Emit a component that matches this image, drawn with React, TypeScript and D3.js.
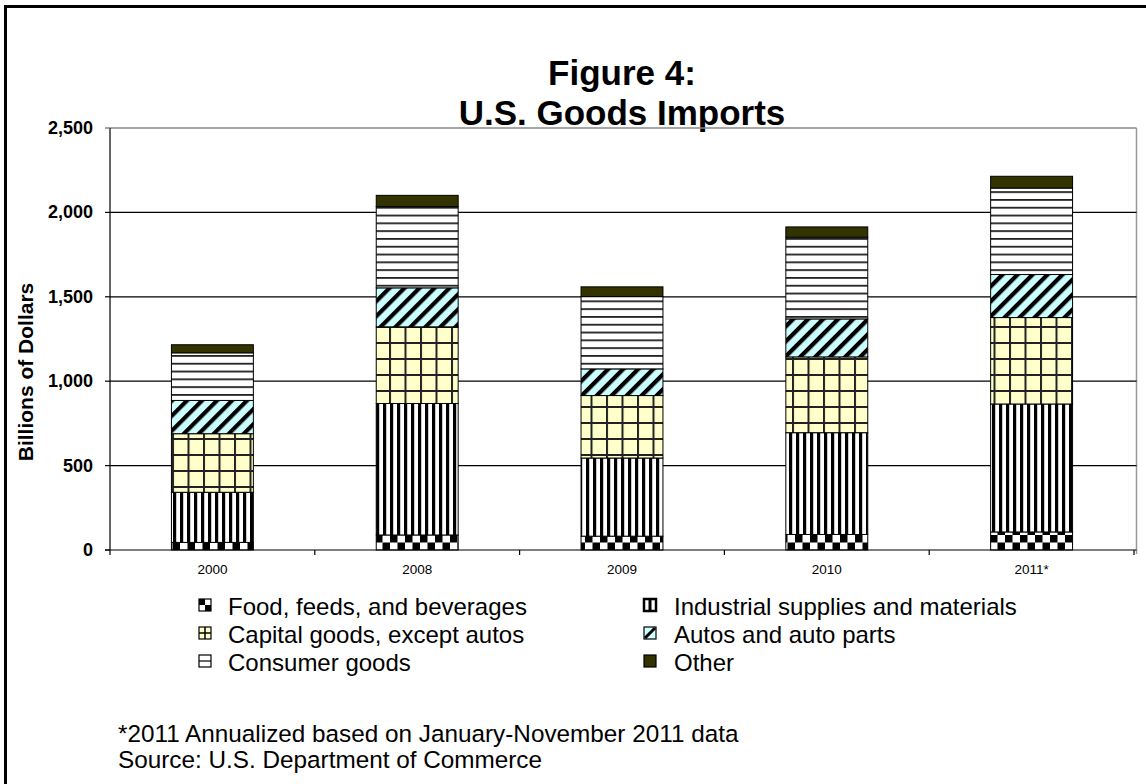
import React from "react";
import * as d3 from "d3";

const years = ["2000", "2008", "2009", "2010", "2011*"];
const food = [45, 89, 82, 92, 107];
const industrial = [297, 779, 463, 603, 758];
const capital = [347, 454, 370, 449, 512];
const autos = [197, 231, 158, 225, 255];
const consumer = [282, 481, 428, 484, 512];
const other = [48, 67, 58, 61, 70];

const seriesKeys = ["food", "industrial", "capital", "autos", "consumer", "other"];
const seriesNames = [
  "Food, feeds, and beverages",
  "Industrial supplies and materials",
  "Capital goods, except autos",
  "Autos and auto parts",
  "Consumer goods",
  "Other",
];
const yTicks = [0, 500, 1000, 1500, 2000, 2500];
const titleLines = ["Figure 4:", "U.S. Goods Imports"];
const yTitle = "Billions of Dollars";
const footnotes = [
  "*2011 Annualized based on January-November 2011 data",
  "Source:  U.S. Department of Commerce",
];

const FONT = "'Liberation Sans', Arial, Helvetica, sans-serif";

export default function App() {
  const W = 1146, H = 784;
  const left = 110, right = 1134, plotRight = 1136.5, top = 128, bottom = 550;

  const rows = years.map((y, i) => ({
    year: y,
    food: food[i],
    industrial: industrial[i],
    capital: capital[i],
    autos: autos[i],
    consumer: consumer[i],
    other: other[i],
  }));

  const stacked = d3.stack<any>().keys(seriesKeys)(rows);

  const x = d3.scaleBand<string>().domain(years).range([left, right]).paddingInner(0.6).paddingOuter(0.3);
  const xStep = (right - left) / years.length;
  const y = d3.scaleLinear().domain([0, 2500]).range([bottom, top]);

  const fills: Record<string, string> = {
    food: "url(#pFood)",
    industrial: "url(#pInd)",
    capital: "url(#pCap)",
    autos: "url(#pAuto)",
    consumer: "url(#pCons)",
    other: "#333300",
  };

  const fmt = d3.format(",");

  const legendItems = [
    { key: "food", col: 0, row: 0 },
    { key: "industrial", col: 1, row: 0 },
    { key: "capital", col: 0, row: 1 },
    { key: "autos", col: 1, row: 1 },
    { key: "consumer", col: 0, row: 2 },
    { key: "other", col: 1, row: 2 },
  ];
  const legColX = [199, 644];
  const legTextX = [228, 674];
  const legBase = [615, 643, 671];

  const marker = (key: string, mx: number, my: number) => {
    const s = 12;
    const st = { stroke: "#000", strokeWidth: 1.2 };
    switch (key) {
      case "food":
        return (
          <g>
            <rect x={mx} y={my} width={s} height={s} fill="#fff" {...st} />
            <rect x={mx} y={my} width={s / 2} height={s / 2} fill="#000" />
            <rect x={mx + s / 2} y={my + s / 2} width={s / 2} height={s / 2} fill="#000" />
          </g>
        );
      case "industrial":
        return (
          <g>
            <rect x={mx} y={my} width={s} height={s} fill="#fff" stroke="#000" strokeWidth={2.5} />
            <rect x={mx + 4.5} y={my} width={3} height={s} fill="#000" />
          </g>
        );
      case "capital":
        return (
          <g>
            <rect x={mx} y={my} width={s} height={s} fill="#FFFFCC" {...st} />
            <line x1={mx + s / 2} x2={mx + s / 2} y1={my} y2={my + s} stroke="#000" strokeWidth={1.5} />
            <line x1={mx} x2={mx + s} y1={my + s / 2} y2={my + s / 2} stroke="#000" strokeWidth={1.5} />
          </g>
        );
      case "autos":
        return (
          <g>
            <rect x={mx} y={my} width={s} height={s} fill="#CCFFFF" {...st} />
            <line x1={mx + 1} x2={mx + s - 1} y1={my + s - 1} y2={my + 1} stroke="#000" strokeWidth={3} />
          </g>
        );
      case "consumer":
        return (
          <g>
            <rect x={mx} y={my} width={s} height={s} fill="#fff" {...st} />
            <line x1={mx} x2={mx + s} y1={my + s / 2} y2={my + s / 2} stroke="#000" strokeWidth={1.2} />
          </g>
        );
      default:
        return <rect x={mx} y={my} width={s} height={s} fill="#333300" {...st} />;
    }
  };

  return (
    <svg
      width={W}
      height={H}
      style={{ position: "absolute", left: 0, top: 0, background: "#fff" }}
      fontFamily={FONT}
    >
      <defs>
        <pattern id="pFood" patternUnits="userSpaceOnUse" width={15} height={15} x={0} y={bottom}>
          <rect width={15} height={15} fill="#fff" />
          <rect x={0} y={0} width={7.5} height={7.5} fill="#000" />
          <rect x={7.5} y={7.5} width={7.5} height={7.5} fill="#000" />
        </pattern>
        <pattern id="pInd" patternUnits="userSpaceOnUse" width={7} height={10} x={left}>
          <rect width={7} height={10} fill="#fff" />
          <rect x={0} y={0} width={3.2} height={10} fill="#000" />
        </pattern>
        <pattern id="pCap" patternUnits="userSpaceOnUse" width={15.5} height={16} x={left} y={bottom}>
          <rect width={15.5} height={16} fill="#FFFFCC" />
          <rect x={0} y={0} width={2} height={16} fill="#222" />
          <rect x={0} y={0} width={15.5} height={2} fill="#222" />
        </pattern>
        <pattern id="pAuto" patternUnits="userSpaceOnUse" width={10.6} height={10.6} patternTransform="rotate(45)">
          <rect width={10.6} height={10.6} fill="#CCFFFF" />
          <rect x={0} y={0} width={4.2} height={10.6} fill="#000" />
        </pattern>
        <pattern id="pCons" patternUnits="userSpaceOnUse" width={10} height={7.8} y={bottom}>
          <rect width={10} height={7.8} fill="#fff" />
          <rect x={0} y={0} width={10} height={1.8} fill="#222" />
        </pattern>
      </defs>

      {/* outer frame */}
      <rect x={5.5} y={6.5} width={1300} height={900} fill="none" stroke="#000" strokeWidth={3} />

      {/* title */}
      <text x={622} y={85} textAnchor="middle" fontWeight="bold" fontSize={35}>
        {titleLines[0]}
      </text>
      <text x={622} y={124.5} textAnchor="middle" fontWeight="bold" fontSize={35}>
        {titleLines[1]}
      </text>

      {/* plot box (gray) */}
      <line x1={left} x2={plotRight} y1={top} y2={top} stroke="#888" strokeWidth={1.5} />
      <line x1={plotRight} x2={plotRight} y1={top} y2={bottom + 4} stroke="#999" strokeWidth={1.5} />

      {/* gridlines */}
      {yTicks.filter((t) => t > 0 && t < 2500).map((t) => (
        <line key={t} x1={left} x2={plotRight} y1={y(t)} y2={y(t)} stroke="#000" strokeWidth={1.2} />
      ))}

      {/* bars */}
      {stacked.map((s) => (
        <g key={s.key}>
          {s.map((d, i) => (
            <rect
              key={i}
              x={x(years[i])!}
              width={x.bandwidth()}
              y={y(d[1])}
              height={y(d[0]) - y(d[1])}
              fill={fills[s.key]}
              stroke="#000"
              strokeWidth={1}
            />
          ))}
        </g>
      ))}

      {/* axes */}
      <line x1={left} x2={left} y1={top} y2={bottom} stroke="#000" strokeWidth={1.2} />
      <line x1={left - 5} x2={plotRight} y1={bottom} y2={bottom} stroke="#000" strokeWidth={1.2} />
      {yTicks.map((t) => (
        <g key={t}>
          <line x1={left - 5} x2={left} y1={y(t)} y2={y(t)} stroke={t === 2500 ? "#666" : "#000"} strokeWidth={1.2} />
          <text x={93} y={y(t) + 6} textAnchor="end" fontWeight="bold" fontSize={18}>
            {fmt(t)}
          </text>
        </g>
      ))}
      {d3.range(years.length + 1).map((i) => (
        <line key={i} x1={left + i * xStep} x2={left + i * xStep} y1={bottom} y2={bottom + 5} stroke="#000" strokeWidth={1.2} />
      ))}
      {years.map((yr) => (
        <text key={yr} x={x(yr)! + x.bandwidth() / 2} y={574} textAnchor="middle" fontSize={13.5}>
          {yr}
        </text>
      ))}

      {/* y title */}
      <text
        transform={`translate(33,372) rotate(-90)`}
        textAnchor="middle"
        fontWeight="bold"
        fontSize={21}
      >
        {yTitle}
      </text>

      {/* legend */}
      {legendItems.map((it) => {
        const idx = seriesKeys.indexOf(it.key);
        return (
          <g key={it.key}>
            {marker(it.key, legColX[it.col], legBase[it.row] - 16)}
            <text x={legTextX[it.col]} y={legBase[it.row]} fontSize={24}>
              {seriesNames[idx]}
            </text>
          </g>
        );
      })}

      {/* footnotes */}
      <text x={118} y={742} fontSize={24.3}>{footnotes[0]}</text>
      <text x={118} y={768} fontSize={24.3}>{footnotes[1]}</text>
    </svg>
  );
}
